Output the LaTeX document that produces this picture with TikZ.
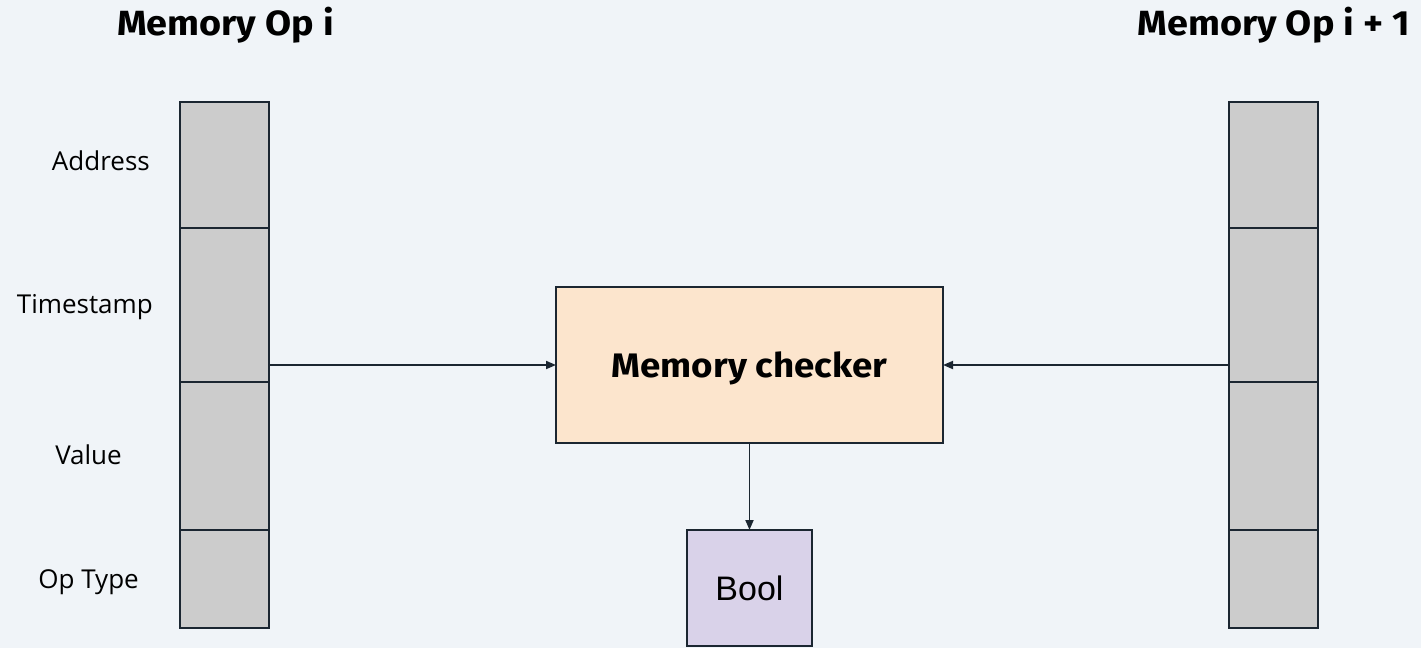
\documentclass[tikz,border=0pt]{standalone}
\usepackage{fontspec}
\setmainfont{Open Sans}
\newfontfamily\headfont[FakeStretch=1.08]{Fira Sans}
\newfontfamily\boolfont{Liberation Sans}
\usetikzlibrary{arrows.meta}

\definecolor{bgcol}{HTML}{F0F4F8}
\definecolor{cellcol}{HTML}{CCCCCC}
\definecolor{checkcol}{HTML}{FCE5CD}
\definecolor{boolcol}{HTML}{D9D2E9}
\definecolor{edgecol}{HTML}{1B2631}

\tikzset{
  cell/.style={draw=edgecol, line width=2pt, fill=cellcol, inner sep=0pt, outer sep=0pt,
               minimum width=89pt, anchor=north west},
  fieldlabel/.style={font=\fontsize{26}{30}\selectfont, inner sep=0pt, anchor=base east, text=black},
  heading/.style={font=\headfont\bfseries\fontsize{35}{40}\selectfont, inner sep=0pt, text=black},
  procbox/.style={draw=edgecol, line width=2pt, inner sep=0pt, outer sep=0pt},
  link/.style={draw=edgecol, line width=1.8pt, -{Triangle[length=10pt,width=8pt]}}
}

\begin{document}
\begin{tikzpicture}[x=1pt,y=-1pt]
  % canvas
  \fill[bgcol] (0,0) rectangle (1421,648);
  \useasboundingbox (0,0) rectangle (1421,648);

  % headings
  \node[heading, anchor=base west] (hl) at (117,35) {Memory Op i};
  \node[heading, anchor=base east] (hr) at (1410,35) {Memory Op i + 1};

  % left record
  \node[cell, minimum height=126pt] (l1) at (180,102) {};
  \node[cell, minimum height=154pt] (l2) at (180,228) {};
  \node[cell, minimum height=148pt] (l3) at (180,382) {};
  \node[cell, minimum height=98pt]  (l4) at (180,530) {};

  % right record
  \node[cell, minimum height=126pt] (r1) at (1229,102) {};
  \node[cell, minimum height=154pt] (r2) at (1229,228) {};
  \node[cell, minimum height=148pt] (r3) at (1229,382) {};
  \node[cell, minimum height=98pt]  (r4) at (1229,530) {};

  % field names
  \node[fieldlabel] (fa) at (150,170) {Address};
  \node[fieldlabel] (ft) at (153,313) {Timestamp};
  \node[fieldlabel] (fv) at (122,464) {Value};
  \node[fieldlabel] (fo) at (139,588) {Op Type};

  % checker and result
  \node[procbox, fill=checkcol, minimum width=387pt, minimum height=156pt,
        font=\headfont\bfseries\fontsize{34}{40}\selectfont, text depth=0pt]
        (chk) at (749.5,365) {Memory checker};
  \node[procbox, fill=boolcol, minimum width=125pt, minimum height=116pt,
        font=\boolfont\fontsize{34}{40}\selectfont, text depth=0pt]
        (bool) at (749.5,588) {Bool};

  % connectors
  \draw[link] (chk.west -| l2.east) -- (chk.west);
  \draw[link] (chk.east -| r2.west) -- (chk.east);
  \draw[link] (chk.south) -- (bool.north);
\end{tikzpicture}
\end{document}
